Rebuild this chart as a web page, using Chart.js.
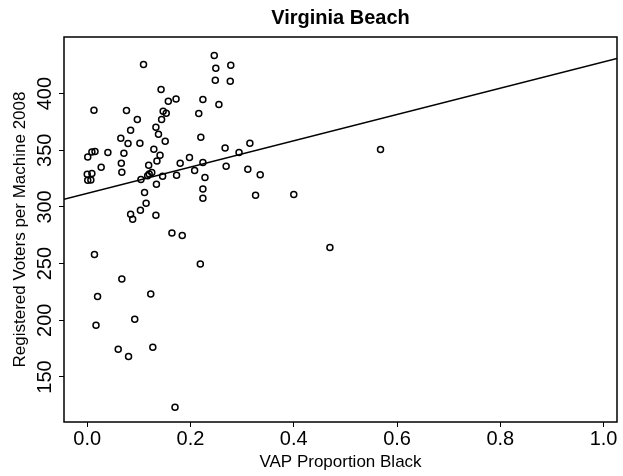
<!DOCTYPE html>
<html>
<head>
    <meta charset="UTF-8">
    <title>Virginia Beach</title>
    <script src="https://cdn.jsdelivr.net/npm/chart.js@4/dist/chart.umd.min.js"></script>
    <style>
        html, body { margin: 0; padding: 0; background: #fff; }
        .chart-container { width: 623px; height: 476px; position: relative; }
    </style>
</head>
<body>
    <div class="chart-container"><canvas id="chart"></canvas></div>

    <script>
        // VAP proportion black per precinct
        const vapBlack = [
            0.246, 0.109, 0.249, 0.278, 0.248, 0.277, 0.143, 0.157, 0.172, 0.224,
            0.255, 0.013, 0.076, 0.147, 0.153, 0.216, 0.097, 0.144, 0.133, 0.084,
            0.138, 0.065, 0.220, 0.151, 0.079, 0.102, 0.129, 0.267, 0.315, 0.009,
            0.015, 0.040, 0.071, 0.001, 0.141, 0.198, 0.294, 0.135, 0.066, 0.180,
            0.224, 0.027, 0.119, 0.269, 0.208, 0.311, 0.000, 0.009, 0.067, 0.120,
            0.125, 0.117, 0.146, 0.173, 0.335, 0.001, 0.007, 0.104, 0.228, 0.134,
            0.224, 0.111, 0.326, 0.224, 0.114, 0.103, 0.084, 0.088, 0.133, 0.400,
            0.568, 0.470, 0.164, 0.184, 0.014, 0.219, 0.067, 0.020, 0.123, 0.092,
            0.017, 0.127, 0.060, 0.080, 0.170
        ];
        // registered voters per machine 2008
        const votersPerMachine = [
            433.5, 425.6, 422.3, 425.0, 411.7, 410.9, 403.5, 393.2, 395.2, 394.7,
            390.3, 385.3, 385.0, 384.4, 382.6, 382.4, 377.1, 377.1, 370.3, 367.6,
            364.1, 360.6, 361.5, 357.9, 355.9, 356.2, 350.9, 352.0, 356.2, 348.5,
            349.0, 348.0, 347.3, 344.1, 345.6, 343.5, 348.0, 340.5, 338.5, 338.5,
            339.1, 335.0, 336.7, 335.9, 332.1, 333.2, 328.8, 329.4, 330.6, 329.1,
            330.3, 327.5, 327.0, 327.9, 328.5, 323.5, 323.8, 324.1, 325.9, 320.0,
            315.8, 312.7, 310.3, 307.6, 303.2, 297.1, 293.5, 289.1, 292.6, 310.9,
            350.6, 264.2, 277.0, 274.7, 258.0, 249.7, 236.5, 220.9, 223.2, 200.9,
            195.6, 176.2, 174.4, 168.0, 123.3
        ];
        // fitted line end points
        const fitX = [-0.045, 1.026];
        const fitY = [306.8, 430.9];

        const xTicks = [0.0, 0.2, 0.4, 0.6, 0.8, 1.0];
        const yTicks = [150, 200, 250, 300, 350, 400];

        const points = vapBlack.map((x, i) => ({ x: x, y: votersPerMachine[i] }));
        const fitLine = fitX.map((x, i) => ({ x: x, y: fitY[i] }));

        Chart.defaults.font.family = '"Liberation Sans", Arial, sans-serif';
        Chart.defaults.color = '#000';

        // box round the plot area, like R
        const boxPlugin = {
            id: 'box',
            afterDraw(chart) {
                const a = chart.chartArea;
                const ctx = chart.ctx;
                ctx.save();
                ctx.strokeStyle = '#000';
                ctx.lineWidth = 1.5;
                ctx.strokeRect(a.left, a.top, a.right - a.left, a.bottom - a.top);
                ctx.restore();
            }
        };

        new Chart(document.getElementById('chart'), {
            type: 'scatter',
            data: {
                datasets: [{
                    label: 'precincts',
                    data: points,
                    pointRadius: 3,
                    pointBorderWidth: 1.5,
                    pointBorderColor: '#000',
                    pointBackgroundColor: 'rgba(0,0,0,0)'
                }, {
                    label: 'fit',
                    type: 'line',
                    data: fitLine,
                    borderColor: '#000',
                    borderWidth: 1.4,
                    pointRadius: 0,
                    fill: false
                }]
            },
            options: {
                responsive: true,
                maintainAspectRatio: false,
                animation: false,
                layout: { padding: { left: 0, right: 6, top: 0, bottom: 0 } },
                plugins: {
                    legend: { display: false },
                    tooltip: { enabled: false },
                    title: {
                        display: true,
                        text: 'Virginia Beach',
                        fullSize: false,
                        font: { size: 20, weight: 'bold' },
                        padding: { top: 6, bottom: 7 }
                    }
                },
                scales: {
                    x: {
                        type: 'linear',
                        min: -0.045,
                        max: 1.026,
                        afterFit: s => { s.height = 54; },
                        afterBuildTicks: s => { s.ticks = xTicks.map(v => ({ value: v })); },
                        grid: { drawOnChartArea: false, drawTicks: true, tickLength: 5, color: '#000' },
                        border: { display: false },
                        ticks: {
                            font: { size: 20 },
                            padding: 0,
                            maxRotation: 0,
                            callback: v => v.toFixed(1)
                        },
                        title: {
                            display: true,
                            text: 'VAP Proportion Black',
                            font: { size: 17 },
                            padding: { top: 0, bottom: 3 }
                        }
                    },
                    y: {
                        type: 'linear',
                        min: 110.3,
                        max: 449.9,
                        afterFit: s => { s.width = 64; },
                        afterBuildTicks: s => { s.ticks = yTicks.map(v => ({ value: v })); },
                        grid: { drawOnChartArea: false, drawTicks: true, tickLength: 5, color: '#000' },
                        border: { display: false },
                        ticks: {
                            font: { size: 20 },
                            padding: -3,
                            minRotation: 90,
                            maxRotation: 90,
                            crossAlign: 'center',
                            callback: v => String(v)
                        },
                        title: {
                            display: true,
                            text: 'Registered Voters per Machine 2008',
                            font: { size: 17 },
                            padding: { top: 10, bottom: 0 }
                        }
                    }
                }
            },
            plugins: [boxPlugin]
        });
    </script>
</body>
</html>
